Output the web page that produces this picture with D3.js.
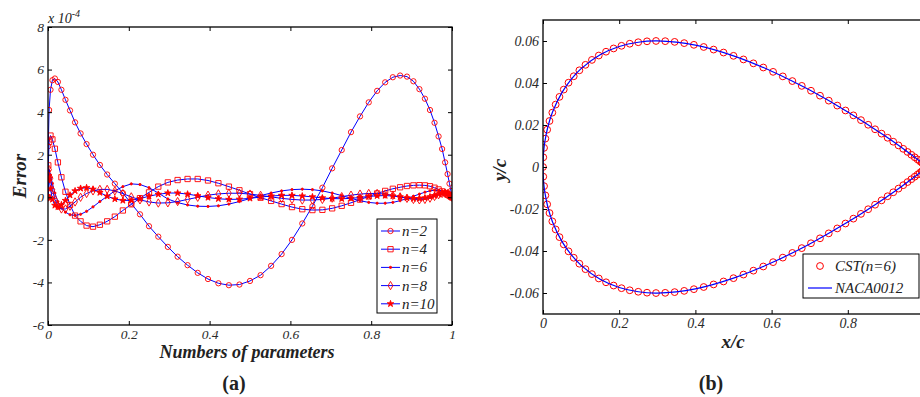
<!DOCTYPE html>
<html>
<head>
<meta charset="utf-8">
<script src="https://d3js.org/d3.v7.min.js"></script>
<style>
  body { margin: 0; background: #fff; }
  svg text { font-family: "Liberation Serif", "Times New Roman", serif; fill: #222; }
</style>
</head>
<body>
<script>
// stations along the chord (same 61 points for both panels)
var xs = [0, 0.00069, 0.00274, 0.00616, 0.01093, 0.01704, 0.02447, 0.03321, 0.04323, 0.0545,
  0.06699, 0.08066, 0.09549, 0.11143, 0.12843, 0.14645, 0.16543, 0.18534, 0.20611, 0.22768,
  0.25, 0.273, 0.29663, 0.32082, 0.34549, 0.37059, 0.39604, 0.42178, 0.44774, 0.47383,
  0.5, 0.52617, 0.55226, 0.57822, 0.60396, 0.62941, 0.65451, 0.67918, 0.70337, 0.727,
  0.75, 0.77232, 0.79389, 0.81466, 0.83457, 0.85355, 0.87157, 0.88857, 0.90451, 0.91934,
  0.93301, 0.9455, 0.95677, 0.96679, 0.97553, 0.98296, 0.98907, 0.99384, 0.99726, 0.99931, 1];

// (a) error curves, in units of 1e-4
var err2 = [0, 2.4, 4.1, 5.05, 5.5, 5.58, 5.42, 5.05, 4.58, 4.08, 3.52, 3.0, 2.5, 2.0, 1.52,
  1.07, 0.64, 0.2, -0.3, -0.8, -1.36, -1.85, -2.33, -2.79, -3.19, -3.55, -3.84, -4.04, -4.13, -4.1,
  -3.93, -3.66, -3.22, -2.67, -2.0, -1.23, -0.42, 0.45, 1.36, 2.22, 3.06, 3.8, 4.46, 5.0, 5.4,
  5.64, 5.72, 5.67, 5.45, 5.08, 4.63, 4.1, 3.5, 2.86, 2.27, 1.64, 1.09, 0.64, 0.3, 0.1, 0];
var err4 = [0, 1.5, 2.6, 2.9, 2.72, 2.28, 1.64, 0.94, 0.26, -0.36, -0.86, -1.13, -1.33, -1.38, -1.29,
  -1.13, -0.91, -0.62, -0.33, -0.04, 0.23, 0.5, 0.7, 0.81, 0.86, 0.86, 0.79, 0.66, 0.5, 0.33,
  0.15, -0.02, -0.17, -0.32, -0.46, -0.56, -0.6, -0.59, -0.52, -0.4, -0.26, -0.11, 0.04, 0.18, 0.3,
  0.4, 0.47, 0.53, 0.56, 0.57, 0.56, 0.52, 0.45, 0.37, 0.28, 0.2, 0.12, 0.07, 0.03, 0.01, 0];
var err6 = [0, 0.9, 1.25, 1.05, 0.65, 0.2, -0.2, -0.5, -0.7, -0.82, -0.85, -0.8, -0.66, -0.45, -0.2,
  0.05, 0.3, 0.5, 0.63, 0.6, 0.45, 0.2, -0.08, -0.25, -0.36, -0.42, -0.43, -0.4, -0.32, -0.2,
  -0.06, 0.08, 0.2, 0.3, 0.36, 0.38, 0.36, 0.3, 0.2, 0.08, -0.05, -0.16, -0.24, -0.28, -0.28,
  -0.24, -0.16, -0.06, 0.05, 0.15, 0.24, 0.3, 0.33, 0.32, 0.28, 0.22, 0.15, 0.09, 0.04, 0.01, 0];
var err8 = [0, 1.0, 1.3, 0.9, 0.35, -0.1, -0.4, -0.55, -0.55, -0.42, -0.22, 0, 0.18, 0.3, 0.37,
  0.37, 0.3, 0.17, 0.02, -0.12, -0.22, -0.27, -0.26, -0.2, -0.1, 0, 0.1, 0.16, 0.19, 0.19,
  0.15, 0.09, 0.02, -0.05, -0.1, -0.13, -0.13, -0.1, -0.04, 0.03, 0.1, 0.15, 0.18, 0.18, 0.15,
  0.09, 0.02, -0.05, -0.1, -0.12, -0.1, -0.04, 0.04, 0.12, 0.18, 0.2, 0.17, 0.12, 0.06, 0.02, 0];
var err10 = [0, 0.8, 0.9, 0.4, -0.1, -0.38, -0.45, -0.35, -0.15, 0.1, 0.3, 0.42, 0.45, 0.38, 0.22,
  0.05, -0.08, -0.15, -0.14, -0.06, 0.05, 0.14, 0.2, 0.2, 0.15, 0.07, -0.01, -0.07, -0.1, -0.09,
  -0.05, 0.01, 0.06, 0.09, 0.09, 0.06, 0.02, -0.03, -0.06, -0.07, -0.05, -0.01, 0.04, 0.07, 0.08,
  0.06, 0.02, -0.03, -0.06, -0.06, -0.03, 0.02, 0.08, 0.14, 0.18, 0.2, 0.18, 0.13, 0.07, 0.03, 0];
var errNames = ["n=2", "n=4", "n=6", "n=8", "n=10"];
var errTicksX = [0, 0.2, 0.4, 0.6, 0.8, 1];
var errTicksY = [-6, -4, -2, 0, 2, 4, 6, 8];

// (b) CST(n=6) points on upper and lower surface
var cstUpper = [0, 0.00461, 0.00912, 0.01351, 0.01777, 0.02191, 0.02589, 0.02973, 0.03339, 0.03687,
  0.04015, 0.04321, 0.04605, 0.04865, 0.051, 0.05308, 0.0549, 0.05645, 0.05771, 0.0587,
  0.05941, 0.05985, 0.06002, 0.05992, 0.05958, 0.05899, 0.05818, 0.05715, 0.05592, 0.05451,
  0.05294, 0.05122, 0.04936, 0.04738, 0.04531, 0.04315, 0.04092, 0.03863, 0.03631, 0.03396,
  0.0316, 0.02925, 0.02691, 0.02459, 0.02232, 0.02011, 0.01796, 0.01589, 0.01392, 0.01204,
  0.01029, 0.00866, 0.00717, 0.00582, 0.00464, 0.00363, 0.00278, 0.00212, 0.00164, 0.00136, 0.00126];
var cstLower = [0, -0.00461, -0.00912, -0.01351, -0.01777, -0.02191, -0.02589, -0.02973, -0.03339, -0.03687,
  -0.04015, -0.04321, -0.04605, -0.04865, -0.051, -0.05308, -0.0549, -0.05645, -0.05771, -0.0587,
  -0.05941, -0.05985, -0.06002, -0.05992, -0.05958, -0.05899, -0.05818, -0.05715, -0.05592, -0.05451,
  -0.05294, -0.05122, -0.04936, -0.04738, -0.04531, -0.04315, -0.04092, -0.03863, -0.03631, -0.03396,
  -0.0316, -0.02925, -0.02691, -0.02459, -0.02232, -0.02011, -0.01796, -0.01589, -0.01392, -0.01204,
  -0.01029, -0.00866, -0.00717, -0.00582, -0.00464, -0.00363, -0.00278, -0.00212, -0.00164, -0.00136, -0.00126];
// NACA0012 ordinates
var nacaX = [0, 0.00125, 0.0025, 0.005, 0.0125, 0.025, 0.05, 0.075, 0.1, 0.15, 0.2, 0.25, 0.3,
  0.4, 0.5, 0.6, 0.7, 0.8, 0.9, 0.95, 1];
var nacaUpper = [0, 0.0062, 0.00872, 0.01221, 0.01894, 0.02615, 0.03555, 0.042, 0.04683, 0.05345,
  0.05737, 0.05941, 0.06002, 0.05803, 0.05294, 0.04563, 0.03664, 0.02623, 0.01448, 0.00807, 0.00126];
var nacaLower = [0, -0.0062, -0.00872, -0.01221, -0.01894, -0.02615, -0.03555, -0.042, -0.04683, -0.05345,
  -0.05737, -0.05941, -0.06002, -0.05803, -0.05294, -0.04563, -0.03664, -0.02623, -0.01448, -0.00807, -0.00126];
var foilTicksX = [0, 0.2, 0.4, 0.6, 0.8, 1];
var foilLabelsX = [0, 0.2, 0.4, 0.6, 0.8];   // "1" falls outside the picture
var foilTicksY = [-0.06, -0.04, -0.02, 0, 0.02, 0.04, 0.06];

var width = 920, height = 397;
var svg = d3.select("body").append("svg")
  .attr("width", width).attr("height", height);

var RED = "#ff0000", BLUE = "#0000ff";

// draws the box, inward ticks on all four sides, labels on left/bottom
function frame(g, x, y, tx, ty, fmtX, fmtY, fs) {
  var x0 = x.range()[0], x1 = x.range()[1], y0 = y.range()[0], y1 = y.range()[1];
  g.append("g").attr("transform", "translate(0," + y0 + ")")
    .call(d3.axisBottom(x).tickValues(tx).tickSize(-4).tickSizeOuter(0).tickPadding(4).tickFormat(fmtX));
  g.append("g").attr("transform", "translate(0," + y1 + ")")
    .call(d3.axisTop(x).tickValues(tx).tickSize(-4).tickSizeOuter(0).tickFormat(""));
  g.append("g").attr("transform", "translate(" + x0 + ",0)")
    .call(d3.axisLeft(y).tickValues(ty).tickSize(-4).tickSizeOuter(0).tickPadding(4).tickFormat(fmtY));
  g.append("g").attr("transform", "translate(" + x1 + ",0)")
    .call(d3.axisRight(y).tickValues(ty).tickSize(-4).tickSizeOuter(0).tickFormat(""));
  g.selectAll(".domain").remove();
  g.selectAll(".tick line").attr("stroke", "#000");
  g.selectAll(".tick text")
    .style("font-family", "'Liberation Serif', 'Times New Roman', serif")
    .style("font-style", "italic").style("font-size", fs).style("fill", "#2a2a2a");
  g.append("rect").attr("x", x0).attr("y", y1).attr("width", x1 - x0).attr("height", y0 - y1)
    .attr("fill", "none").attr("stroke", "#000").attr("stroke-width", 1.3);
}

// ---------- panel (a) ----------
var xa = d3.scaleLinear().domain([0, 1]).range([48, 452]);
var ya = d3.scaleLinear().domain([-6, 8]).range([325, 27]);
var ga = svg.append("g");

var series = [err2, err4, err6, err8, err10];
var markers = [
  { type: d3.symbolCircle, size: 22, fill: "none" },
  { type: d3.symbolSquare, size: 28, fill: "none" },
  { type: d3.symbolCircle, size: 4, fill: RED },
  { type: d3.symbolDiamond, size: 20, fill: "none" },
  { type: d3.symbolStar, size: 13, fill: RED }
];

ga.append("clipPath").attr("id", "clipA").append("rect")
  .attr("x", 48).attr("y", 27).attr("width", 404).attr("height", 298);
var plotA = ga.append("g").attr("clip-path", "url(#clipA)");

var lineA = d3.line().x(function(d) { return xa(d[0]); }).y(function(d) { return ya(d[1]); });

series.forEach(function(vals, i) {
  var pts = xs.map(function(x, j) { return [x, vals[j]]; });
  plotA.append("path").datum(pts).attr("d", lineA)
    .attr("fill", "none").attr("stroke", BLUE).attr("stroke-width", 1);
  var m = markers[i];
  plotA.append("g").selectAll("path").data(pts).enter().append("path")
    .attr("transform", function(d) { return "translate(" + xa(d[0]) + "," + ya(d[1]) + ")"; })
    .attr("d", d3.symbol().type(m.type).size(m.size))
    .attr("fill", m.fill).attr("stroke", RED).attr("stroke-width", 0.9);
});

frame(ga, xa, ya, errTicksX, errTicksY, function(d) { return String(d); }, function(d) { return String(d); }, "13.5px");

var expo = ga.append("text").attr("x", 48).attr("y", 23)
  .attr("font-size", "14px").attr("font-style", "italic");
expo.append("tspan").text("x 10");
expo.append("tspan").attr("dy", -6).attr("font-size", "10px").text("-4");

ga.append("text").attr("transform", "translate(26,176) rotate(-90)")
  .attr("text-anchor", "middle").attr("font-size", "19px")
  .attr("font-weight", "bold").attr("font-style", "italic").attr("fill", "#111").text("Error");
ga.append("text").attr("x", 247).attr("y", 358).attr("text-anchor", "middle")
  .attr("font-size", "18px").attr("font-weight", "bold").attr("font-style", "italic")
  .attr("fill", "#111").text("Numbers of parameters");
ga.append("text").attr("x", 234).attr("y", 390).attr("text-anchor", "middle")
  .attr("font-size", "20px").attr("font-weight", "bold").attr("fill", "#111").text("(a)");

// legend (a)
var lga = ga.append("g");
lga.append("rect").attr("x", 377).attr("y", 219).attr("width", 60).attr("height", 94)
  .attr("fill", "#fff").attr("stroke", "#000").attr("stroke-width", 1);
errNames.forEach(function(name, i) {
  var yy = 231 + i * 18.2;
  lga.append("line").attr("x1", 381).attr("x2", 400).attr("y1", yy).attr("y2", yy)
    .attr("stroke", BLUE).attr("stroke-width", 1);
  var m = markers[i];
  lga.append("path").attr("transform", "translate(390.5," + yy + ")")
    .attr("d", d3.symbol().type(m.type).size(m.size))
    .attr("fill", m.fill).attr("stroke", RED).attr("stroke-width", 0.9);
  lga.append("text").attr("x", 402).attr("y", yy + 5).attr("font-size", "15px")
    .attr("font-style", "italic").text(name);
});

// ---------- panel (b) ----------
var xb = d3.scaleLinear().domain([0, 1]).range([543, 924]);
var yb = d3.scaleLinear().domain([-0.07, 0.07]).range([314, 20]);
var gb = svg.append("g");

gb.append("clipPath").attr("id", "clipB").append("rect")
  .attr("x", 543).attr("y", 20).attr("width", 381).attr("height", 294);
var plotB = gb.append("g").attr("clip-path", "url(#clipB)");

// CST markers
var cstPts = xs.map(function(x, j) { return [x, cstUpper[j]]; })
  .concat(xs.slice(1).map(function(x, j) { return [x, cstLower[j + 1]]; }));
plotB.append("g").selectAll("circle").data(cstPts).enter().append("circle")
  .attr("cx", function(d) { return xb(d[0]); })
  .attr("cy", function(d) { return yb(d[1]); })
  .attr("r", 3.4).attr("fill", "none").attr("stroke", RED).attr("stroke-width", 1);

// NACA0012 contour: upper TE -> LE -> lower TE
var nacaPts = nacaX.map(function(x, j) { return [x, nacaUpper[j]]; }).reverse()
  .concat(nacaX.slice(1).map(function(x, j) { return [x, nacaLower[j + 1]]; }));
plotB.append("path").datum(nacaPts)
  .attr("d", d3.line().curve(d3.curveCatmullRom.alpha(0.5))
    .x(function(d) { return xb(d[0]); }).y(function(d) { return yb(d[1]); }))
  .attr("fill", "none").attr("stroke", BLUE).attr("stroke-width", 1.2);

frame(gb, xb, yb, foilTicksX, foilTicksY,
  function(d) { return foilLabelsX.indexOf(d) >= 0 ? String(d) : ""; },
  function(d) { return d === 0 ? "0" : d.toFixed(2); }, "14px");

gb.append("text").attr("transform", "translate(506,170) rotate(-90)")
  .attr("text-anchor", "middle").attr("font-size", "19px")
  .attr("font-weight", "bold").attr("font-style", "italic").attr("fill", "#111").text("y/c");
gb.append("text").attr("x", 733).attr("y", 348).attr("text-anchor", "middle")
  .attr("font-size", "19px").attr("font-weight", "bold").attr("font-style", "italic")
  .attr("fill", "#111").text("x/c");
gb.append("text").attr("x", 711).attr("y", 390).attr("text-anchor", "middle")
  .attr("font-size", "20px").attr("font-weight", "bold").attr("fill", "#111").text("(b)");

// legend (b)
var lgb = gb.append("g");
lgb.append("rect").attr("x", 803).attr("y", 254).attr("width", 116).attr("height", 44)
  .attr("fill", "#fff").attr("stroke", "#000").attr("stroke-width", 1);
lgb.append("circle").attr("cx", 820).attr("cy", 266).attr("r", 3.4)
  .attr("fill", "none").attr("stroke", RED).attr("stroke-width", 1);
lgb.append("text").attr("x", 835).attr("y", 271).attr("font-size", "15px")
  .attr("font-style", "italic").text("CST(n=6)");
lgb.append("line").attr("x1", 808).attr("x2", 832).attr("y1", 288).attr("y2", 288)
  .attr("stroke", BLUE).attr("stroke-width", 1.2);
lgb.append("text").attr("x", 835).attr("y", 293).attr("font-size", "15px")
  .attr("font-style", "italic").text("NACA0012");
</script>
</body>
</html>
